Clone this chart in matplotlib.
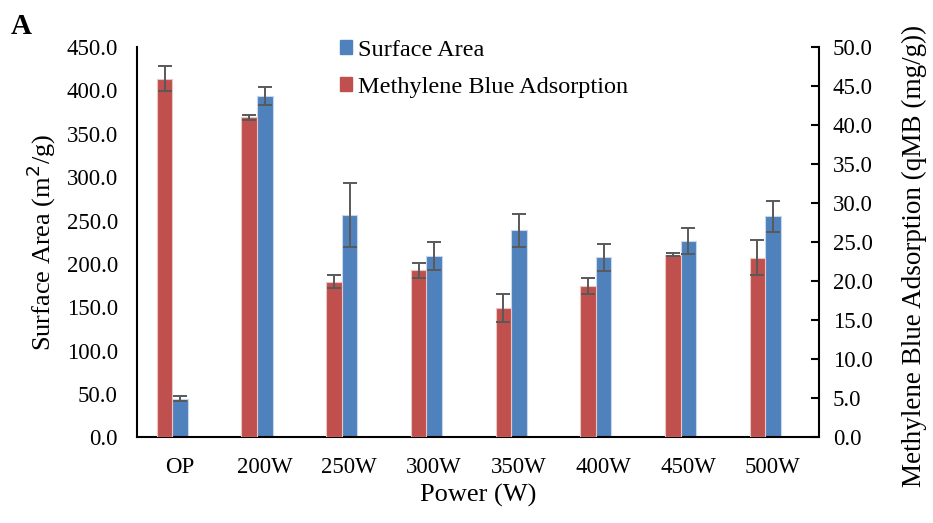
import numpy as np
import matplotlib.pyplot as plt
from matplotlib.patches import Patch

# data
categories = ['OP', '200W', '250W', '300W', '350W', '400W', '450W', '500W']
surface_area = [44.4, 394.0, 256.7, 209.0, 238.6, 207.5, 226.7, 254.8]
surface_area_err = [2.9, 10.2, 36.6, 16.3, 19.4, 15.4, 15.0, 17.9]
mb_adsorption = [45.96, 41.0, 19.97, 21.4, 16.6, 19.4, 23.4, 23.05]
mb_adsorption_err = [1.62, 0.34, 0.81, 0.94, 1.8, 1.0, 0.2, 2.2]

red = '#C0504D'
blue = '#4F81BD'
err_color = '#595959'

plt.rcParams['font.family'] = ['Liberation Serif', 'DejaVu Serif']

fig = plt.figure(figsize=(9.33, 5.23), dpi=100)
ax1 = fig.add_axes([0.1472, 0.1635, 0.7307, 0.7465])
ax2 = ax1.twinx()

x = np.arange(len(categories))
w = 0.184
shift = -0.087  # the bar pairs sit a little left of the category centre
err_kw = dict(ecolor=err_color, elinewidth=1.4, capsize=4.8, capthick=1.4)

ax1.bar(x + shift + w / 2, surface_area, w, yerr=surface_area_err, color=blue,
        edgecolor='#C9D7EA', linewidth=0.8, error_kw=err_kw)
ax2.bar(x + shift - w / 2, mb_adsorption, w, yerr=mb_adsorption_err, color=red,
        edgecolor='#EBC5C4', linewidth=0.8, error_kw=err_kw)

ax1.set_xlim(-0.5, 7.548)
ax1.set_ylim(0, 450)
ax2.set_ylim(0, 50)
ax1.set_yticks(np.arange(0, 451, 50))
ax2.set_yticks(np.arange(0, 51, 5))
ax1.set_yticklabels([f'{v:.1f}' for v in np.arange(0, 451, 50)])
ax2.set_yticklabels([f'{v:.1f}' for v in np.arange(0, 51, 5)])
ax1.set_xticks(x)
ax1.set_xticklabels(categories)

for ax in (ax1, ax2):
    ax.spines['top'].set_visible(False)
    for s in ax.spines.values():
        s.set_linewidth(1.5)
ax2.spines['left'].set_visible(False)
ax2.spines['bottom'].set_visible(False)
ax1.spines['right'].set_visible(False)

ax1.tick_params(axis='y', length=0, labelsize=16.5, pad=14)
ax1.tick_params(axis='x', length=0, labelsize=16.5, pad=14)
ax2.tick_params(axis='y', direction='in', length=6, width=1.5, labelsize=16.5, pad=10)

ax1.set_xlabel('Power (W)', fontsize=19, labelpad=4)
ax1.set_ylabel('Surface Area (m$^2$/g)', fontsize=19, labelpad=6)
ax2.set_ylabel('Methylene Blue Adsorption (qMB (mg/g))', fontsize=19.5)
ax2.yaxis.set_label_coords(1.122, 0.465)

handles = [Patch(color=blue, label='Surface Area'),
           Patch(color=red, label='Methylene Blue Adsorption')]
fig.legend(handles=handles, loc='upper left', bbox_to_anchor=(0.3644, 0.9235),
           frameon=False, fontsize=17.5, handlelength=0.5, handleheight=0.5,
           handletextpad=0.25, labelspacing=0.65, borderpad=0, borderaxespad=0)

fig.text(0.012, 0.935, 'A', fontsize=21, fontweight='bold')

fig.savefig('out.png', dpi=100)
